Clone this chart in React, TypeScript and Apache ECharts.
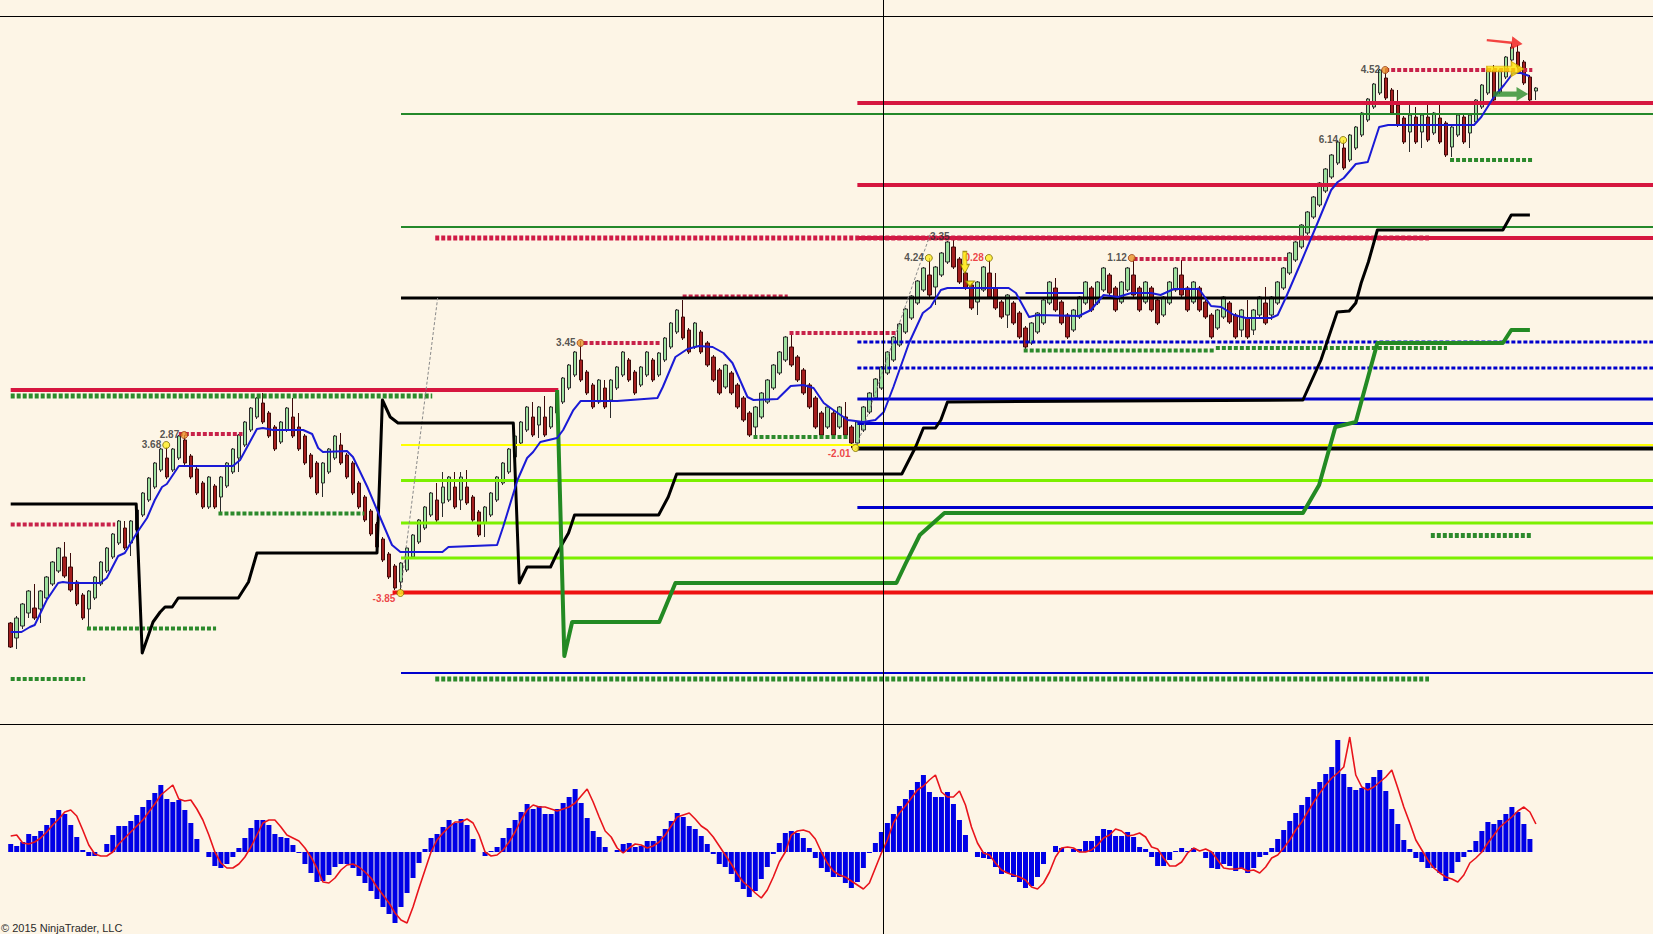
import React, { useEffect, useRef } from "react";
import * as echarts from "echarts";

// ---------- layout constants ----------
const SLOTS = 274;
const BG = "#fdf5e6";
const X_MAX = SLOTS - 0.5;
const crosshairIdx = 145.25;

const categories = Array.from({ length: SLOTS }, (_, i) => String(i + 1));

// ---------- price candles (open, close, low, high) ----------
const opens = [101,86,98,111,116,115,126,140,153,167,157,142,129,115,126,140,153,167,181,196,181,194,209,224,237,254,266,254,266,284,268,255,241,217,238,227,238,252,266,279,294,307,321,311,297,282,294,307,297,288,269,261,241,252,266,279,269,261,241,227,213,200,185,170,158,142,154,167,182,196,209,224,221,224,237,224,237,227,212,201,209,224,241,252,267,281,294,307,299,307,297,311,322,336,349,364,352,339,322,336,324,336,349,364,352,339,349,364,349,364,377,392,407,394,377,392,381,367,354,337,351,339,326,311,297,307,322,336,351,364,377,367,354,339,326,311,297,311,297,307,297,281,294,312,326,336,351,364,379,392,406,421,434,449,437,449,462,477,465,451,439,422,434,451,436,422,409,421,411,396,381,392,401,421,436,422,409,394,407,421,436,421,434,449,436,422,434,449,436,422,436,424,409,421,434,449,436,422,436,422,409,396,407,421,409,394,406,394,409,421,409,421,436,451,464,477,491,507,519,533,547,561,576,564,576,589,604,617,631,646,634,619,606,592,607,592,607,591,606,601,577,589,607,591,602,617,631,654,632,647,664,672,662,647,633];
const closes = [77,106,120,133,106,133,147,162,176,148,134,120,106,133,147,162,176,190,203,176,203,214,231,246,261,275,247,275,288,261,247,231,217,247,217,247,261,275,289,302,316,326,302,288,275,302,316,288,275,261,247,231,261,275,288,261,247,231,217,204,190,177,164,147,136,161,176,189,204,217,231,204,237,247,217,247,221,204,189,217,231,247,261,275,288,302,317,289,317,289,317,331,346,359,372,344,331,317,344,317,344,357,372,344,331,357,372,344,371,386,401,414,386,372,401,372,359,344,331,359,331,317,304,289,317,331,344,359,372,387,359,344,331,317,297,289,317,289,317,289,281,302,317,331,345,357,372,387,400,415,428,443,456,429,457,471,482,457,442,436,416,442,457,427,416,407,429,401,387,377,401,411,424,442,414,401,387,414,427,442,414,442,456,431,414,442,456,429,414,442,414,401,427,442,456,429,414,442,414,407,387,414,427,402,387,414,387,414,427,401,427,442,456,471,482,499,512,527,541,555,569,582,556,589,597,611,625,640,654,626,611,599,582,609,582,609,584,611,582,569,597,609,582,609,624,639,654,624,654,667,677,657,641,624,636];
const lows = [76,75,95,106,104,101,124,138,151,146,132,118,104,97,124,138,151,165,179,174,168,192,207,222,235,252,245,252,264,259,245,229,215,215,215,212,236,250,252,277,292,305,300,286,273,280,292,286,273,259,245,229,227,250,264,259,245,229,215,202,188,175,162,145,134,131,152,165,180,194,207,202,207,222,215,214,219,202,187,187,207,222,239,250,265,279,292,287,286,287,295,309,320,334,347,342,329,315,320,315,306,334,347,342,329,337,347,342,347,362,375,390,384,370,375,370,357,342,329,335,329,315,302,287,286,305,320,334,349,362,357,342,329,315,295,287,295,287,295,287,276,279,292,310,324,334,349,362,377,390,404,419,432,427,419,447,460,455,440,434,414,409,432,425,414,405,396,399,385,375,379,390,399,419,412,399,385,392,405,419,412,419,432,429,412,420,432,427,412,420,412,399,407,419,432,427,412,420,412,405,385,394,405,400,385,387,385,389,407,399,404,419,434,449,462,475,489,505,517,531,545,559,554,562,574,587,602,615,629,624,609,597,580,572,580,576,582,589,580,567,567,587,580,576,600,615,629,622,630,645,662,655,639,622,624];
const highs = [102,108,121,134,140,134,148,163,177,182,171,144,131,134,148,163,177,191,204,203,204,215,232,247,262,276,277,276,289,289,270,257,243,248,240,248,262,276,290,303,317,327,331,313,299,303,317,326,311,290,271,263,262,276,289,291,271,263,243,229,215,202,187,172,160,162,177,190,205,218,232,241,252,248,252,252,254,229,214,218,232,248,262,276,289,303,318,322,318,328,318,332,347,360,373,383,354,341,345,344,345,358,373,366,354,358,373,366,372,387,402,415,424,396,402,394,383,369,356,360,353,341,328,313,318,332,345,360,373,388,391,369,356,341,328,313,318,313,318,322,299,303,318,332,346,358,373,388,401,416,429,444,457,466,458,472,483,487,467,453,441,443,458,464,451,424,430,423,413,398,402,412,425,443,446,424,411,415,428,443,438,443,457,451,438,443,457,465,438,443,438,426,428,443,457,464,438,443,438,424,411,415,428,423,411,415,424,415,428,437,428,443,457,472,483,500,513,528,542,556,570,583,584,590,598,612,626,641,655,655,636,634,608,619,617,611,619,612,619,603,598,610,609,610,625,640,655,659,655,668,681,679,664,649,637];

// ---------- lower panel oscillator ----------
const histogram = [8,6,10,18,16,21,27,34,42,38,27,15,2,-4,-4,0,8,17,26,26,31,37,45,52,59,67,53,50,52,42,29,13,0,-5,-14,-16,-12,-5,4,14,24,32,32,27,18,15,14,7,-1,-12,-21,-30,-29,-23,-15,-12,-12,-16,-24,-31,-39,-47,-55,-62,-71,-55,-41,-26,-11,3,14,18,25,32,29,33,27,13,0,-4,1,5,14,24,32,40,48,43,46,38,38,43,49,55,63,49,34,21,15,5,0,2,8,9,5,6,11,11,16,23,31,39,35,26,23,16,8,-2,-12,-15,-22,-30,-37,-45,-39,-27,-15,-2,9,19,21,19,14,4,-6,-16,-20,-25,-25,-31,-36,-30,-16,-1,9,20,29,38,46,53,62,70,77,60,55,55,60,48,32,17,0,-5,-6,-7,-15,-22,-21,-25,-30,-36,-34,-25,-12,0,6,4,0,3,3,11,11,16,23,22,16,16,20,15,5,3,-5,-14,-14,-8,1,4,1,4,0,-6,-16,-17,-12,-14,-19,-16,-21,-16,-5,-3,4,13,22,31,39,47,55,63,70,78,85,112,78,65,62,64,69,75,82,61,43,28,12,3,-6,-10,-16,-16,-21,-29,-21,-10,-5,2,11,21,30,28,32,38,45,40,28,13,null];
const signal = [16,17,9,8,10,14,20,27,33,40,42,36,22,7,-2,-4,-4,0,8,14,20,26,32,40,48,57,62,67,53,51,52,43,32,17,0,-11,-16,-16,-12,-5,5,17,29,32,32,25,17,14,11,4,-5,-16,-30,-31,-26,-18,-13,-12,-15,-20,-26,-35,-43,-51,-61,-68,-71,-55,-36,-18,0,12,19,25,30,30,33,29,17,0,-4,-3,2,10,20,32,42,47,45,45,43,41,43,45,49,56,63,50,35,21,15,4,-1,4,8,7,4,6,10,17,26,35,37,39,33,26,22,15,6,-3,-12,-22,-30,-35,-41,-46,-38,-25,-10,0,17,21,22,20,13,0,-11,-19,-23,-25,-29,-33,-37,-31,-16,-1,12,29,39,46,54,62,66,72,77,60,55,55,61,47,25,9,-1,-3,-11,-18,-21,-23,-25,-28,-35,-37,-31,-20,-5,4,5,4,0,0,2,7,14,17,23,21,16,17,19,15,5,3,-6,-14,-14,-10,-1,4,1,3,0,-8,-16,-17,-17,-16,-19,-18,-21,-15,-6,-3,4,12,22,30,40,50,59,67,74,79,85,115,77,65,62,65,70,75,82,64,45,29,12,2,-8,-16,-21,-25,-27,-30,-23,-11,-6,0,9,17,25,30,35,41,45,40,28];

// ---------- indicator lines (bar index, price) ----------
const maLine = [[0,92],[1.8,92],[3.2,97],[4,99],[6,124],[7.9,141],[8.7,142],[9.9,141],[14.9,141],[16,146],[17.9,168],[19,171],[21,191],[22.7,206],[24,224],[25.2,237],[26,240],[28,258],[37,258],[38.2,264],[41,295],[42,296],[43.7,294],[48.7,294],[50.2,290],[51.2,276],[52,272],[56,273],[57,267],[59.4,237],[61.5,207],[63.5,179],[64.9,172],[71.9,172],[72.9,177],[81,179],[82,197],[84.4,244],[86,266],[87,272],[88.2,282],[91,286],[92,294],[93.7,314],[94.9,323],[101,323],[107.7,326],[108.6,337],[110.7,367],[112.7,375],[114.6,378],[116.9,377],[118.7,371],[120.2,361],[122.7,327],[123.7,324],[127.7,325],[129.9,338],[132,339],[133.7,336],[135.4,321],[137,314],[139.4,304],[142,302],[144,304],[145.4,312],[147,337],[149.6,381],[151.9,411],[153.2,417],[154.9,434],[156,436],[166.2,436],[167.4,431],[169.6,407],[171,409],[177.9,408],[179.9,414],[182,429],[184.4,427],[186.6,431],[189.9,431],[191.5,429],[193.7,435],[197.9,435],[199.9,418],[201.6,417],[203.7,409],[205.7,406],[209.9,406],[211,409],[212.4,427],[214.9,462],[217.7,502],[219.9,534],[221,542],[222,546],[224,560],[226,562],[227.9,597],[229.4,599],[243.7,599],[244.9,607],[247,627],[248.7,639],[250.2,651],[251.5,651],[252.9,648]];
const maShort = [[169,431],[178.7,431]];
const stopLine = [[0,220],[20.9,220],[21.9,71],[23.7,102],[24.9,112],[25.7,117],[26.9,117],[27.9,126],[37.9,126],[39.6,142],[41,171],[61,171],[61.9,324],[63.2,307],[64.5,301],[83.7,301],[84.7,141],[86,157],[89.9,157],[91,171],[92.9,191],[93.9,209],[107.9,209],[109.5,227],[110.9,250],[148.4,250],[150.7,277],[152,296],[154,296],[154.9,304],[156,322],[215.2,324],[218.2,364],[220.9,412],[222.9,413],[224,421],[224.9,441],[226.1,462],[227.6,494],[248.5,494],[249.9,509],[253,509]];
const trailLine = [[91,334],[92.2,68],[93.5,102],[108,102],[110.7,141],[147.5,141],[149,160],[151.4,189],[155.5,211],[215.2,211],[217.9,239],[220.6,297],[224,302],[227.6,381],[248.5,381],[249.9,394],[253,394]];
const trendA = [[64.9,131],[71.1,426]];
const trendB = [[140.7,274],[153.2,491]];

// ---------- horizontal levels: [startIdx, endIdx (null = chart edge), price] ----------
const crimsonSolid = [[0,91.2,334],[141,null,621],[141,null,539],[141,null,486]];
const crimsonDotted = [[0,17.4,199.5],[28,38.6,290],[95.4,108.2,381],[111.9,129.4,427.5],[129.7,147.4,391],[187,212.6,465],[228.9,253.4,654]];
const crimsonDottedHeavy = [[70.7,236.2,486]];
const greenDotted = [[0,12.4,45],[12.7,34.2,95.5],[34.6,58.9,210.5],[123.7,139.7,287],[168.7,200.4,373.5],[200.7,239.2,376],[239.7,253.4,564]];
const greenDottedHeavy = [[0,70.2,328],[70.7,236.2,45],[236.5,253.2,188.5]];
const greenThin = [[65,null,610],[65,null,497]];
const blackLevels = [[65,null,426],[141,null,275.5]];
const yellowLevels = [[65,null,279]];
const lawnLevels = [[65,null,243.5],[65,null,201],[65,null,166]];
const redLevels = [[63.6,null,131.5]];
const blueSolid = [[141,null,325],[141,null,300.5],[141,null,216.5]];
const blueThin = [[65,null,51]];
const blueDotted = [[141,null,382],[141,null,356]];

// ---------- swing labels ----------
const swingIdx = [25.9,28.9,64.9,94.9,140.7,152.9,156.6,162.9,186.7,221.9,228.9];
const swingPrice = [279,289,131,381,276,466,487,466,466,584,654];
const swingText = ["3.68","2.87","-3.85","3.45","-2.01","4.24","3.35","0.28","1.12","6.14","4.52"];

// ---------- signal arrows ----------
const arrowIdx = [158.9,248.8,248.9,249.8];
const arrowPrice = [461.5,682,655,630];
const triangleIdx = [159.75];
const trianglePrice = [440];

const CRIMSON = "#d6163f";
const GREEN = "#24882a";

function levelSeries(levels: any[], style: any, key: string) {
  return levels.map((lv, k) => ({
    type: "line",
    id: key + k,
    xAxisIndex: 1,
    yAxisIndex: 0,
    data: [[lv[0], lv[2]], [lv[1] == null ? X_MAX : lv[1], lv[2]]],
    symbol: "none",
    silent: true,
    z: 3,
    lineStyle: { cap: "butt", ...style },
  }));
}

function pathSeries(pts: any[], style: any, id: string, z: number) {
  return {
    type: "line",
    id,
    xAxisIndex: 1,
    yAxisIndex: 0,
    data: pts,
    symbol: "none",
    silent: true,
    z,
    lineStyle: style,
  };
}

function buildOption(): any {
  const candleData = opens.map((o, i) => [o, closes[i], lows[i], highs[i]]);
  const DOT = [4, 2];

  const swingData = swingText.map((t, k) => {
    const neg = t.startsWith("-") || t === "0.28";
    const orange = ["2.87", "3.45", "1.12", "4.52"].includes(t);
    const hidden = t === "3.35";
    return {
      value: [swingIdx[k], swingPrice[k]],
      symbolSize: hidden ? 1 : 7,
      itemStyle: hidden
        ? { color: "rgba(0,0,0,0)" }
        : { color: orange ? "#e8962a" : "#ffee22", borderColor: orange ? "#9a3a10" : "#7a6a00", borderWidth: 1 },
      label: {
        show: true,
        formatter: t,
        position: "left",
        distance: 1,
        offset: t.startsWith("-") ? [0, 5] : [0, -1],
        color: neg ? "#e8141b" : "#2a2a2a",
        fontSize: 10,
        fontWeight: "bold",
        fontFamily: "Liberation Sans",
      },
    };
  });

  const RIGHT_ARROW = "path://M0,5 L24,5 L24,0 L36,8 L24,16 L24,11 L0,11 Z";
  const RIGHT_ARROW_THIN = "path://M0,6.5 L25,6.5 L25,0 L36,8 L25,16 L25,9.5 L0,9.5 Z";
  const DOWN_ARROW = "path://M3,0 L8,0 L8,13 L11,13 L5.5,22 L0,13 L3,13 Z";
  const arrowStyles = [
    { symbol: DOWN_ARROW, symbolSize: [9, 22], itemStyle: { color: "#ffea00", borderColor: "#8a7a00", borderWidth: 1 } },
    { symbol: RIGHT_ARROW_THIN, symbolSize: [36, 13], symbolRotate: -6, itemStyle: { color: "#f01818" } },
    { symbol: RIGHT_ARROW, symbolSize: [37, 15], itemStyle: { color: "#ffe600", borderColor: "#d4a800", borderWidth: 1 } },
    { symbol: RIGHT_ARROW, symbolSize: [35, 14], itemStyle: { color: "#2a8c2a" } },
  ];
  const arrowData = arrowIdx.map((x, k) => ({ value: [x, arrowPrice[k]], ...arrowStyles[k] }));

  const series: any[] = [
    {
      type: "candlestick",
      id: "price",
      xAxisIndex: 0,
      yAxisIndex: 0,
      data: candleData,
      barWidth: 4,
      z: 2,
      itemStyle: {
        color: "#9ee09e",
        color0: "#a41e1e",
        borderColor: "#2b2b2b",
        borderColor0: "#3c0a0a",
        borderWidth: 1,
      },
    },
    ...levelSeries(greenThin, { color: GREEN, width: 2 }, "gthin"),
    ...levelSeries(lawnLevels, { color: "#7cf000", width: 3 }, "lawn"),
    ...levelSeries(yellowLevels, { color: "#ffff00", width: 2 }, "yel"),
    ...levelSeries(redLevels, { color: "#ee1111", width: 4 }, "red"),
    ...levelSeries(blueThin, { color: "#0000cd", width: 2 }, "bthin"),
    ...levelSeries(blueSolid, { color: "#0000cd", width: 3 }, "bsolid"),
    ...levelSeries(blueDotted, { color: "#0000cd", width: 3, type: DOT }, "bdot"),
    ...levelSeries(crimsonSolid, { color: CRIMSON, width: 4 }, "csolid"),
    ...levelSeries(crimsonDotted, { color: "#c8224a", width: 4, type: DOT }, "cdot"),
    ...levelSeries(crimsonDottedHeavy, { color: "#d01c46", width: 5, type: DOT }, "cdoth"),
    ...levelSeries(greenDotted, { color: "#2c8a2c", width: 4, type: DOT }, "gdot"),
    ...levelSeries(greenDottedHeavy, { color: "#2c8a2c", width: 5, type: DOT }, "gdoth"),
    ...levelSeries(blackLevels.slice(0, 1), { color: "#000000", width: 3 }, "blk"),
    ...levelSeries(blackLevels.slice(1), { color: "#000000", width: 4 }, "blk2"),
    pathSeries(trendA, { color: "#8a8a8a", width: 1, type: [3, 2] }, "trendA", 3),
    pathSeries(trendB, { color: "#8a8a8a", width: 1, type: [3, 2] }, "trendB", 3),
    pathSeries(stopLine, { color: "#000000", width: 3, join: "round" }, "stop", 4),
    pathSeries(trailLine, { color: "#238a23", width: 4, join: "round" }, "trail", 4),
    pathSeries(maLine, { color: "#1a1ad6", width: 2, join: "round" }, "ma", 5),
    pathSeries(maShort, { color: "#1a1ad6", width: 2 }, "ma2", 5),
    {
      type: "scatter",
      id: "swings",
      xAxisIndex: 1,
      yAxisIndex: 0,
      data: swingData,
      z: 6,
      silent: true,
    },
    {
      type: "scatter",
      id: "arrows",
      xAxisIndex: 1,
      yAxisIndex: 0,
      data: arrowData,
      z: 7,
      silent: true,
    },
    {
      type: "scatter",
      id: "tri",
      xAxisIndex: 1,
      yAxisIndex: 0,
      data: triangleIdx.map((x, k) => [x, trianglePrice[k]]),
      symbol: "triangle",
      symbolRotate: 180,
      symbolSize: [9, 6],
      itemStyle: { color: "#ffea00", borderColor: "#8a7a00", borderWidth: 1 },
      z: 7,
      silent: true,
    },
    {
      type: "bar",
      id: "hist",
      xAxisIndex: 2,
      yAxisIndex: 1,
      data: histogram,
      barWidth: 5,
      itemStyle: { color: "#0000e6" },
      silent: true,
    },
    {
      type: "line",
      id: "signal",
      xAxisIndex: 2,
      yAxisIndex: 1,
      data: signal,
      symbol: "none",
      silent: true,
      z: 4,
      lineStyle: { color: "#e8141b", width: 1.6 },
    },
  ];

  return {
    animation: false,
    backgroundColor: BG,
    textStyle: { fontFamily: "Liberation Sans" },
    grid: [
      { left: 7.7, right: 0, top: 16, height: 708 },
      { left: 7.7, right: 0, top: 724, height: 210 },
    ],
    xAxis: [
      { type: "category", gridIndex: 0, data: categories, boundaryGap: true, show: false },
      { type: "value", gridIndex: 0, min: -0.5, max: X_MAX, show: false },
      { type: "category", gridIndex: 1, data: categories, boundaryGap: true, show: false },
    ],
    yAxis: [
      { type: "value", gridIndex: 0, min: 0, max: 708, show: false, splitLine: { show: false } },
      { type: "value", gridIndex: 1, min: -82, max: 128, show: false, splitLine: { show: false } },
    ],
    series,
  };
}

export default function App() {
  const ref = useRef<HTMLDivElement>(null);
  useEffect(() => {
    document.body.style.margin = "0";
    document.body.style.background = BG;
    const chart = echarts.init(ref.current as HTMLDivElement, null, { renderer: "svg" });
    chart.setOption(buildOption());
    const cx = chart.convertToPixel({ xAxisIndex: 1 } as any, crosshairIdx) as unknown as number;
    chart.setOption({
      graphic: [
        { type: "line", id: "topBorder", shape: { x1: 0, y1: 16.5, x2: 1653, y2: 16.5 }, style: { stroke: "#000", lineWidth: 1 }, z: 10 },
        { type: "line", id: "split", shape: { x1: 0, y1: 724.5, x2: 1653, y2: 724.5 }, style: { stroke: "#000", lineWidth: 1 }, z: 10 },
        { type: "line", id: "cross", shape: { x1: Math.round(cx) + 0.5, y1: 0, x2: Math.round(cx) + 0.5, y2: 934 }, style: { stroke: "#000", lineWidth: 1 }, z: 10 },
        {
          type: "text",
          id: "copy",
          x: 1,
          y: 933,
          style: { text: "© 2015 NinjaTrader, LLC", fill: "#2a2a2a", font: "11px 'Liberation Sans'", textVerticalAlign: "bottom" },
          z: 10,
        },
      ],
    });
    return () => chart.dispose();
  }, []);
  return <div ref={ref} style={{ position: "absolute", left: 0, top: 0, width: 1653, height: 934 }} />;
}
